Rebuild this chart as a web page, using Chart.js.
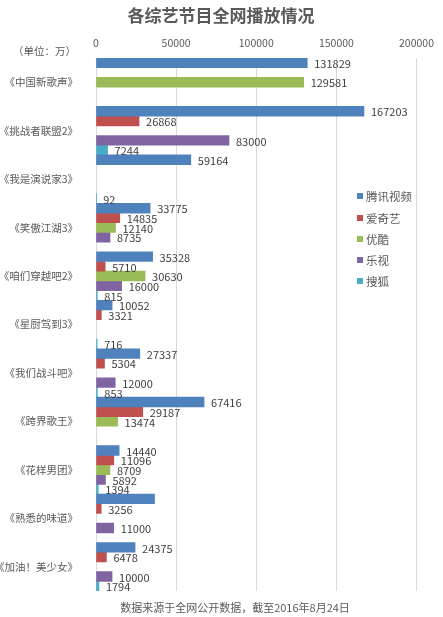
<!DOCTYPE html>
<html lang="zh">
<head>
<meta charset="UTF-8">
<title>各综艺节目全网播放情况</title>
<script src="https://cdn.jsdelivr.net/npm/chart.js"></script>
<style>
  html, body { margin: 0; padding: 0; background: #fff; }
  #wrap { width: 443px; height: 617px; position: relative; }
</style>
</head>
<body>
<div id="wrap"><canvas id="chart"></canvas></div>
<script>
// data (单位：万)
const categories = ['《中国新歌声》', '《挑战者联盟2》', '《我是演说家3》', '《笑傲江湖3》', '《咱们穿越吧2》',
  '《星厨驾到3》', '《我们战斗吧》', '《跨界歌王》', '《花样男团》', '《熟悉的味道》', '《加油！美少女》'];
const seriesNames = ['腾讯视频', '爱奇艺', '优酷', '乐视', '搜狐'];
const tencent = [131829, 167203, 59164, 33775, 35328, 10052, 27337, 67416, 14440, 36500, 24375];
const iqiyi   = [null, 26868, null, 14835, 5710, 3321, 5304, 29187, 11096, 3256, 6478];
const youku   = [129581, null, null, 12140, 30630, null, null, 13474, 8709, null, null];
const letv    = [null, 83000, null, 8735, 16000, null, 12000, null, 5892, 11000, 10000];
const sohu    = [null, 7244, 92, null, 815, 716, 853, null, 1394, null, 1794];
const xTicks  = [0, 50000, 100000, 150000, 200000];
// bars that carry no value label in the original: [series, category]
const unlabeled = [[0, 9]];

const colors = ['#4F81BD', '#C0504D', '#9BBB59', '#8064A2', '#4BACC6'];
const FONT = "'Noto Sans CJK SC', 'Noto Sans', sans-serif";
const TXT = '#595959';

const allSeries = [tencent, iqiyi, youku, letv, sohu];

// value labels, legend, title and notes drawn on the canvas
const extras = {
  id: 'extras',
  afterDatasetsDraw(chart) {
    const ctx = chart.ctx;
    ctx.save();
    ctx.font = '11px ' + FONT;
    ctx.fillStyle = '#404040';
    ctx.textBaseline = 'middle';
    ctx.textAlign = 'left';
    chart.data.datasets.forEach((ds, si) => {
      const meta = chart.getDatasetMeta(si);
      meta.data.forEach((bar, i) => {
        const v = ds.data[i];
        if (v === null || v === undefined) return;
        if (unlabeled.some(u => u[0] === si && u[1] === i)) return;
        ctx.fillText(String(v), bar.x + 7, bar.y + 1);
      });
    });

    // legend
    ctx.font = '11.5px ' + FONT;
    const ly = [196, 218, 239, 260, 281];
    seriesNames.forEach((n, i) => {
      ctx.fillStyle = colors[i];
      ctx.fillRect(357, ly[i] - 3, 6, 6);
      ctx.fillStyle = TXT;
      ctx.fillText(n, 366, ly[i] + 1);
    });

    // title
    ctx.font = 'bold 17px ' + FONT;
    ctx.textAlign = 'center';
    ctx.fillStyle = TXT;
    ctx.fillText('各综艺节目全网播放情况', 221, 16);

    // unit
    ctx.font = '10.5px ' + FONT;
    ctx.textAlign = 'left';
    ctx.fillText('（单位：万）', 13, 51);

    // source note
    ctx.font = '11px ' + FONT;
    ctx.textAlign = 'center';
    ctx.fillText('数据来源于全网公开数据，截至2016年8月24日', 235, 608);
    ctx.restore();
  }
};

new Chart(document.getElementById('chart'), {
  type: 'bar',
  data: {
    labels: categories,
    datasets: allSeries.map((d, i) => ({
      label: seriesNames[i],
      data: d,
      backgroundColor: colors[i],
      borderWidth: 0,
      barPercentage: 1,
      categoryPercentage: 1
    }))
  },
  options: {
    indexAxis: 'y',
    responsive: true,
    maintainAspectRatio: false,
    animation: false,
    layout: { padding: { top: 34, left: 0, right: 22, bottom: 26 } },
    plugins: {
      legend: { display: false },
      tooltip: { enabled: false }
    },
    scales: {
      x: {
        position: 'top',
        min: 0,
        max: 200000,
        afterBuildTicks: s => { s.ticks = xTicks.map(v => ({ value: v })); },
        afterFit: s => { s.height = 24; },
        grid: { color: '#D9D9D9', drawTicks: false },
        border: { display: false },
        ticks: {
          color: TXT,
          padding: 9,
          font: { family: FONT, size: 10.5 },
          callback: v => String(v)
        }
      },
      y: {
        afterFit: s => { s.width = 96; },
        grid: { display: false },
        border: { display: false },
        ticks: {
          color: TXT,
          padding: 10,
          autoSkip: false,
          font: { family: FONT, size: 10.5 }
        }
      }
    }
  },
  plugins: [extras]
});
</script>
</body>
</html>
